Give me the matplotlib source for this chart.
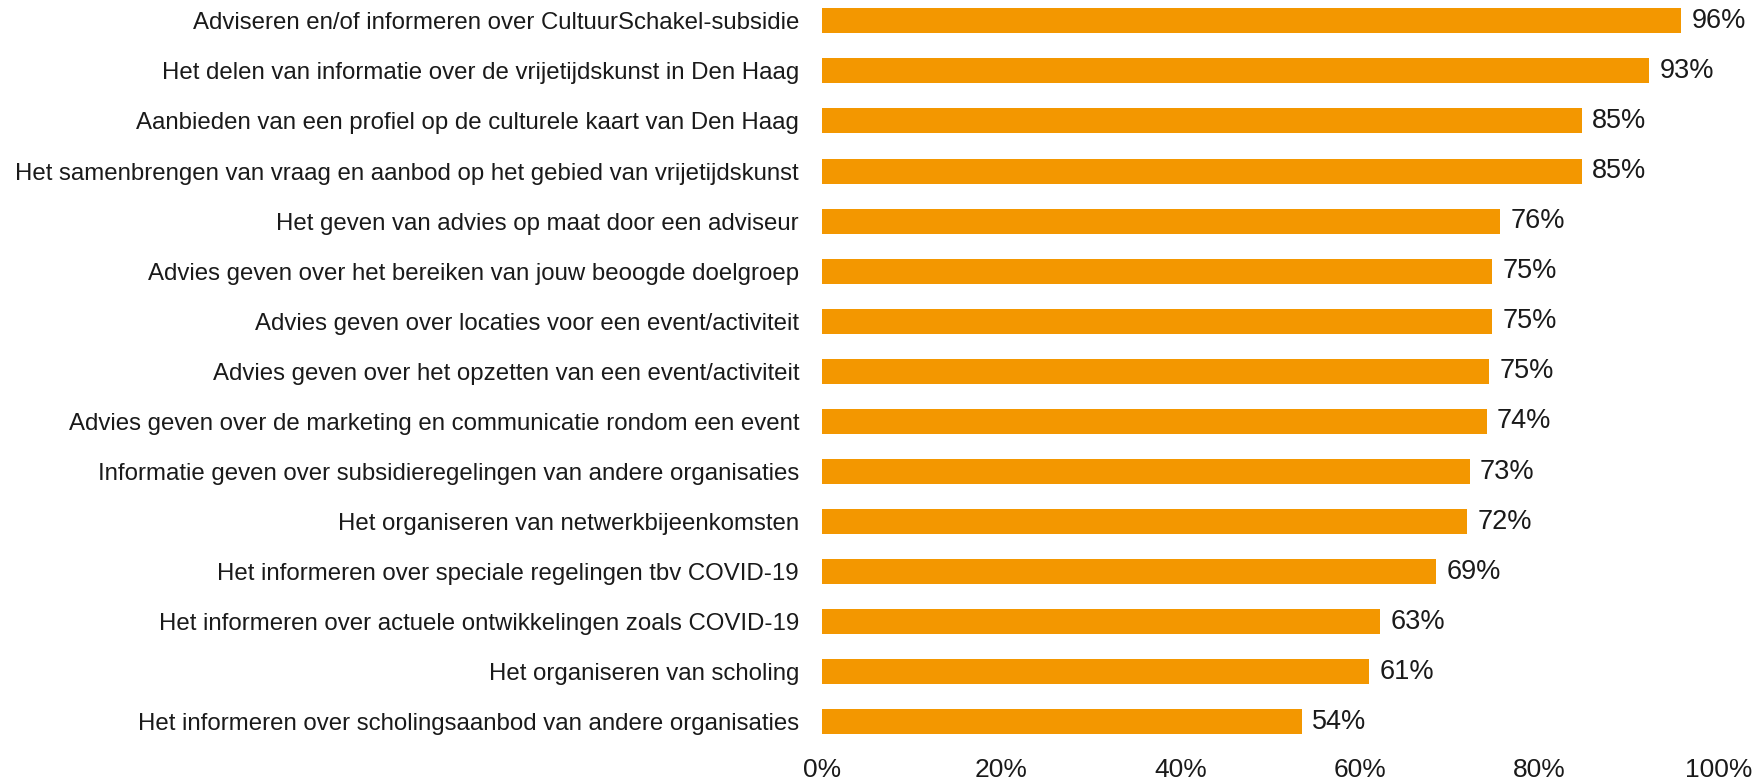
import matplotlib
matplotlib.use("Agg")
import matplotlib.pyplot as plt

categories = [
    "Adviseren en/of informeren over CultuurSchakel-subsidie",
    "Het delen van informatie over de vrijetijdskunst in Den Haag",
    "Aanbieden van een profiel op de culturele kaart van Den Haag",
    "Het samenbrengen van vraag en aanbod op het gebied van vrijetijdskunst",
    "Het geven van advies op maat door een adviseur",
    "Advies geven over het bereiken van jouw beoogde doelgroep",
    "Advies geven over locaties voor een event/activiteit",
    "Advies geven over het opzetten van een event/activiteit",
    "Advies geven over de marketing en communicatie rondom een event",
    "Informatie geven over subsidieregelingen van andere organisaties",
    "Het organiseren van netwerkbijeenkomsten",
    "Het informeren over speciale regelingen tbv COVID-19",
    "Het informeren over actuele ontwikkelingen zoals COVID-19",
    "Het organiseren van scholing",
    "Het informeren over scholingsaanbod van andere organisaties",
]
values = [95.8, 92.2, 84.7, 84.7, 75.6, 74.7, 74.7, 74.4, 74.1, 72.2, 71.9, 68.5, 62.2, 61.0, 53.5]
value_labels = ["96%", "93%", "85%", "85%", "76%", "75%", "75%", "75%", "74%", "73%",
                "72%", "69%", "63%", "61%", "54%"]
xticks = [0, 20, 40, 60, 80, 100]
xtick_labels = ["0%", "20%", "40%", "60%", "80%", "100%"]

plt.rcParams['font.family'] = ['Liberation Sans', 'DejaVu Sans']

W, H = 1756, 784
fig = plt.figure(figsize=(W / 100, H / 100), dpi=100)
left, right = 822, 1719
top, bottom = 0, 748
ax = fig.add_axes([left / W, 1 - bottom / H, (right - left) / W, (bottom - top) / H])

color = "#F39700"
ypos = list(range(len(categories)))
ax.barh(ypos, values, height=0.5, color=color)

for y, v, lab in zip(ypos, values, value_labels):
    ax.annotate(lab, (v, y), xytext=(7.5, 0), textcoords="offset points",
                ha="left", va="center", fontsize=19.5, color="#1a1a1a")

ax.set_xlim(0, 100)
ax.set_ylim(14.52, -0.415)
ax.set_yticks(ypos)
ax.set_yticklabels(categories, fontsize=17.3, color="#1a1a1a")
ax.set_xticks(xticks)
ax.set_xticklabels(xtick_labels, fontsize=19, color="#1a1a1a")
ax.tick_params(axis="y", length=0, pad=16.5)
ax.tick_params(axis="x", length=0, pad=7.5)
for s in ax.spines.values():
    s.set_visible(False)

fig.savefig("out.png", dpi=100)
